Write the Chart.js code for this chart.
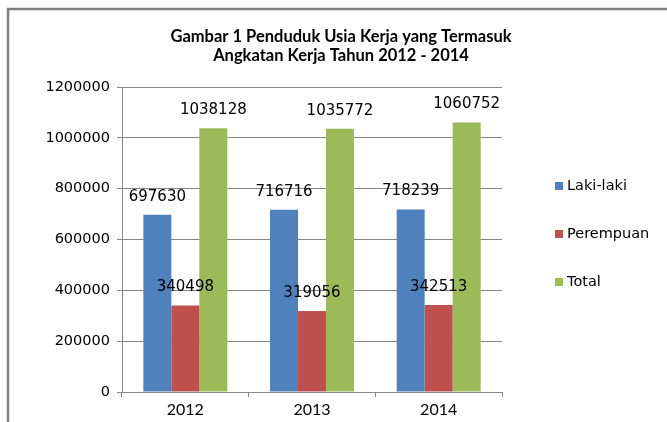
<!DOCTYPE html>
<html>
<head>
<meta charset="utf-8">
<script src="https://cdn.jsdelivr.net/npm/chart.js@4/dist/chart.umd.min.js"></script>
<style>
  html, body { margin: 0; padding: 0; background: #fff; }
  #wrap { position: relative; width: 667px; height: 422px; }
</style>
</head>
<body>
<div id="wrap"><canvas id="chart" width="667" height="422"></canvas></div>
<script>
  const years = ["2012", "2013", "2014"];
  const lakiLaki = [697630, 716716, 718239];
  const perempuan = [340498, 319056, 342513];
  const total = [1038128, 1035772, 1060752];
  const titleLines = ["Gambar 1 Penduduk Usia Kerja yang Termasuk", "Angkatan Kerja Tahun 2012 - 2014"];

  const seriesNames = ["Laki-laki", "Perempuan", "Total"];
  const seriesColors = ["#4f81bd", "#c0504d", "#9bbb59"];
  const gridColor = "#868686";

  // frame + title
  const framePlugin = {
    id: "frame",
    beforeDraw(chart) {
      const ctx = chart.ctx;
      ctx.save();
      ctx.strokeStyle = "#7f7f7f";
      ctx.lineWidth = 2.5;
      ctx.beginPath();
      ctx.moveTo(8, 422);
      ctx.lineTo(8, 9);
      ctx.lineTo(667, 9);
      ctx.stroke();

      ctx.fillStyle = "#000";
      ctx.font = "bold 16.5px Lato";
      ctx.textAlign = "center";
      ctx.textBaseline = "middle";
      ctx.fillText(titleLines[0], 341, 37);
      ctx.fillText(titleLines[1], 341, 56);
      ctx.restore();
    }
  };

  const valueLabels = {
    id: "valueLabels",
    afterDatasetsDraw(chart) {
      const ctx = chart.ctx;
      ctx.save();
      ctx.fillStyle = "#000";
      ctx.font = "15px 'DejaVu Sans'";
      ctx.textAlign = "center";
      ctx.textBaseline = "middle";
      chart.data.datasets.forEach((ds, i) => {
        chart.getDatasetMeta(i).data.forEach((bar, j) => {
          ctx.fillText(String(ds.data[j]), bar.x, bar.y - 18);
        });
      });
      ctx.restore();
    }
  };

  const sideLegend = {
    id: "sideLegend",
    afterDraw(chart) {
      const ctx = chart.ctx;
      ctx.save();
      ctx.font = "14.5px 'DejaVu Sans'";
      ctx.textBaseline = "middle";
      ctx.textAlign = "left";
      const ys = [186, 234, 282];
      seriesNames.forEach((name, i) => {
        ctx.fillStyle = seriesColors[i];
        ctx.fillRect(555, ys[i] - 4, 8, 8);
        ctx.fillStyle = "#000";
        ctx.fillText(name, 567, ys[i]);
      });
      ctx.restore();
    }
  };

  new Chart(document.getElementById("chart"), {
    type: "bar",
    data: {
      labels: years,
      datasets: [
        { label: seriesNames[0], data: lakiLaki, backgroundColor: seriesColors[0] },
        { label: seriesNames[1], data: perempuan, backgroundColor: seriesColors[1] },
        { label: seriesNames[2], data: total, backgroundColor: seriesColors[2] }
      ]
    },
    options: {
      responsive: false,
      animation: false,
      events: [],
      datasets: { bar: { categoryPercentage: 0.663, barPercentage: 1.0 } },
      layout: { padding: { left: 0, top: 87, right: 165, bottom: 0 } },
      plugins: { legend: { display: false }, title: { display: false }, tooltip: { enabled: false } },
      scales: {
        x: {
          afterFit(scale) { scale.height = 30; },
          grid: { offset: true, drawOnChartArea: false, drawTicks: true, tickLength: 5, color: gridColor },
          border: { display: true, color: gridColor },
          ticks: { color: "#000", font: { family: "Lato", size: 16 }, padding: 3 }
        },
        y: {
          min: 0,
          max: 1200000,
          afterFit(scale) { scale.width = 122; },
          grid: { color: gridColor, drawTicks: true, tickLength: 5 },
          border: { display: true, color: gridColor },
          ticks: {
            stepSize: 200000,
            color: "#000",
            font: { family: "DejaVu Sans", size: 14.5 },
            padding: 7,
            callback(value) { return String(value); }
          }
        }
      }
    },
    plugins: [framePlugin, valueLabels, sideLegend]
  });
</script>
</body>
</html>
